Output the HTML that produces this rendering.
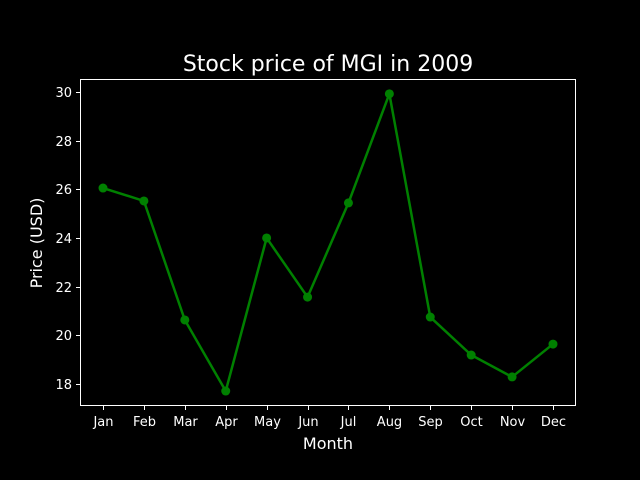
<!DOCTYPE html>
<html><head><meta charset="utf-8"><style>
html,body{margin:0;padding:0;background:#000;width:640px;height:480px;overflow:hidden}
svg{display:block}
svg text{font-family:"DejaVu Sans","Liberation Sans",sans-serif;fill:#fff}
</style></head><body>
<svg id="chart" width="640" height="480">
<rect width="640" height="480" fill="#000"/>
<text x="328" y="71" font-size="22" text-anchor="middle">Stock price of MGI in 2009</text>
<g id="axes"></g>
<rect x="80.5" y="79.5" width="495" height="326" fill="none" stroke="#fff" stroke-width="1"/>
<text x="328" y="449" font-size="16" text-anchor="middle">Month</text>
<text transform="translate(42,243) rotate(-90)" font-size="16" text-anchor="middle">Price (USD)</text>
</svg>
<script>
const months=["Jan","Feb","Mar","Apr","May","Jun","Jul","Aug","Sep","Oct","Nov","Dec"];
const prices=[26.05,25.52,20.63,17.71,24.0,21.57,25.44,29.92,20.75,19.19,18.29,19.64];
const yTicks=[18,20,22,24,26,28,30];
const NS="http://www.w3.org/2000/svg";
const g=document.getElementById("axes");
const X0=80,X1=576,Y0=79,Y1=406,yMin=17.096,yMax=30.53;
function xs(i){return 103+i*(553-103)/(months.length-1);}
function ys(v){return Y1-(v-yMin)/(yMax-yMin)*(Y1-Y0);}
function mk(t,a){const e=document.createElementNS(NS,t);for(const k in a)e.setAttribute(k,a[k]);g.appendChild(e);return e;}
yTicks.forEach(v=>{
 const y=Math.round(ys(v))+0.5;
 const t=mk("line",{x1:X0-4,x2:X0,y1:y,y2:y,stroke:"#fff"});
 
 
 const l=mk("text",{x:X0-8,y:y+4.5,"font-size":"13","text-anchor":"end"});
 l.textContent=v;
 
 
});
months.forEach((m,i)=>{
 const x=Math.round(xs(i))+0.5;
 const t=mk("line",{x1:x,x2:x,y1:Y1,y2:Y1+4,stroke:"#fff"});
 
 
 const l=mk("text",{x:x,y:Y1+20,"font-size":"13","text-anchor":"middle"});
 l.textContent=m;
 
 
});
const line=mk("polyline",{points:prices.map((v,i)=>xs(i)+","+ys(v)).join(" "),fill:"none",stroke:"#008000","stroke-width":"2.5"});


prices.forEach((v,i)=>{
 const c=mk("circle",{cx:xs(i),cy:ys(v),r:"4.5",fill:"#008000"});
 
 
});
</script>
</body></html>
